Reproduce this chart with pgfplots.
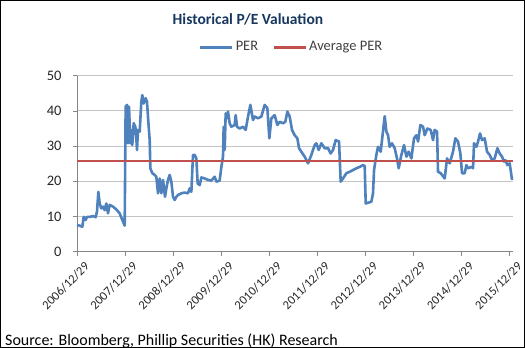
\documentclass[border=0pt]{standalone}
\usepackage{pgfplots}
\pgfplotsset{compat=1.18}
\usepackage{pgfplotstable}
\usepackage{fontspec}
\setmainfont{Carlito}
\definecolor{perblue}{HTML}{4F81BD}
\definecolor{avgred}{HTML}{C0504D}
\definecolor{titleblue}{HTML}{17375E}
\definecolor{axisgray}{HTML}{868686}
\definecolor{gridgray}{HTML}{C4C4C4}
\pgfplotstableread{
x y
2007.000 7.6
2007.055 7.4
2007.111 7.1
2007.139 9.9
2007.180 9.0
2007.208 9.9
2007.264 9.9
2007.333 10.1
2007.388 9.8
2007.416 11.4
2007.444 17.0
2007.472 13.7
2007.506 12.3
2007.541 12.8
2007.576 11.8
2007.610 13.7
2007.645 10.9
2007.680 13.3
2007.749 12.8
2007.818 12.0
2007.888 10.9
2007.943 9.0
2007.992 7.4
2008.012 41.2
2008.040 41.7
2008.061 30.8
2008.082 41.2
2008.110 30.8
2008.130 34.6
2008.151 30.3
2008.179 36.5
2008.214 35.5
2008.234 32.2
2008.248 28.9
2008.269 34.6
2008.304 34.1
2008.338 42.6
2008.359 44.5
2008.387 42.1
2008.429 43.6
2008.456 42.6
2008.484 36.9
2008.512 31.7
2008.526 23.7
2008.567 22.3
2008.616 21.8
2008.650 21.3
2008.685 16.6
2008.720 20.8
2008.755 16.6
2008.789 20.4
2008.831 15.6
2008.859 18.0
2008.893 20.4
2008.928 21.8
2008.963 19.9
2008.997 15.6
2009.032 14.7
2009.067 15.6
2009.101 16.1
2009.171 16.6
2009.240 16.8
2009.309 16.6
2009.344 18.0
2009.379 17.0
2009.413 27.5
2009.448 27.5
2009.483 26.5
2009.510 19.4
2009.552 18.9
2009.587 21.1
2009.656 20.8
2009.725 20.4
2009.795 20.2
2009.864 21.3
2009.899 19.9
2009.968 20.2
2010.003 24.1
2010.037 27.0
2010.051 35.5
2010.072 28.9
2010.093 39.3
2010.121 37.9
2010.141 39.8
2010.176 36.5
2010.211 35.5
2010.280 36.0
2010.301 38.8
2010.329 35.5
2010.384 35.0
2010.454 35.5
2010.509 34.6
2010.558 38.4
2010.606 41.7
2010.662 37.4
2010.696 38.4
2010.766 37.9
2010.835 38.4
2010.904 41.7
2010.960 40.8
2011.001 32.2
2011.043 37.9
2011.112 38.8
2011.168 36.0
2011.216 36.9
2011.286 36.5
2011.334 36.9
2011.376 39.8
2011.424 38.4
2011.473 34.6
2011.528 33.1
2011.584 32.2
2011.619 29.4
2011.667 28.4
2011.736 27.0
2011.806 25.1
2011.875 27.5
2011.945 30.3
2011.979 30.8
2012.028 28.9
2012.083 30.8
2012.153 29.4
2012.222 29.4
2012.277 27.9
2012.326 28.9
2012.381 31.7
2012.451 31.3
2012.485 19.9
2012.534 20.8
2012.603 22.3
2012.673 22.7
2012.742 23.2
2012.811 23.7
2012.881 24.1
2012.950 24.6
2012.985 24.3
2013.006 13.7
2013.054 13.9
2013.123 14.2
2013.158 16.6
2013.179 23.2
2013.227 27.5
2013.262 29.8
2013.318 28.4
2013.345 31.7
2013.401 38.5
2013.436 34.1
2013.470 33.1
2013.505 29.8
2013.553 30.8
2013.609 29.4
2013.657 26.5
2013.692 23.7
2013.748 27.5
2013.803 30.3
2013.852 27.0
2013.900 28.4
2013.956 26.5
2014.011 32.2
2014.060 33.1
2014.095 31.3
2014.143 36.0
2014.199 35.5
2014.233 33.1
2014.289 35.0
2014.358 34.6
2014.406 31.7
2014.441 34.6
2014.490 34.1
2014.510 22.7
2014.566 22.3
2014.649 20.8
2014.698 26.5
2014.753 25.1
2014.822 28.4
2014.871 32.2
2014.926 31.3
2014.975 27.9
2015.010 22.3
2015.065 22.3
2015.100 24.6
2015.135 23.7
2015.204 24.1
2015.239 23.7
2015.259 30.8
2015.308 29.8
2015.343 31.3
2015.384 33.6
2015.426 31.7
2015.481 32.2
2015.530 28.4
2015.585 27.5
2015.634 26.0
2015.689 26.5
2015.745 29.4
2015.793 27.9
2015.842 27.0
2015.883 25.6
2015.911 26.0
2015.953 24.6
2016.001 25.1
2016.050 20.4
}\pertable
\begin{document}
\begin{tikzpicture}
\useasboundingbox (0,0) rectangle (525pt,348pt);
\begin{axis}[
  at={(77pt,96.3pt)}, anchor=south west,
  scale only axis, width=436pt, height=176pt,
  xmin=2007, xmax=2016.07, ymin=0, ymax=50,
  axis lines*=left,
  axis line style={axisgray, line width=0.8pt},
  xtick={2007,2008,...,2016},
  xticklabels={2006/12/29,2007/12/29,2008/12/29,2009/12/29,2010/12/29,2011/12/29,2012/12/29,2013/12/29,2014/12/29,2015/12/29},
  ytick={0,10,...,50},
  ymajorgrids, grid style={gridgray, line width=0.9pt},
  tick align=outside, major tick length=4pt,
  tick style={axisgray, line width=0.8pt},
  /pgf/number format/assume math mode=true,
  xticklabel style={font=\fontsize{12.5}{14}\selectfont, rotate=45, anchor=north east, inner sep=0.5pt, xshift=1.5pt, yshift=-8pt, text=black!85},
  yticklabel style={font=\fontsize{14.5}{16}\selectfont, xshift=-8pt, text=black!85},
  legend columns=2,
  legend style={draw=none, fill=none, at={(0.492,1.163)}, anchor=center,
    font=\fontsize{14.5}{16}\selectfont, text=black!75,
    /tikz/every even column/.append style={column sep=12pt}},
  legend image code/.code={\draw[#1, line width=3pt] (0pt,0pt) -- (32pt,0pt);},
  clip=false,
]
\addplot[perblue, line width=2.6pt, line join=round] table[x=x,y=y] {\pertable};
\addlegendentry{PER}
\addplot[avgred, line width=2.6pt] coordinates {(2007,25.8) (2016.07,25.8)};
\addlegendentry{Average PER}
\node[font=\fontsize{15.5}{17}\selectfont\bfseries, text=titleblue] at (rel axis cs:0.392,1.322) {Historical P/E Valuation};
\end{axis}
\node[anchor=base west, font=\fontsize{16}{18}\selectfont, inner sep=0pt] at (5pt,2.5pt) {Source: Bloomberg, Phillip Securities (HK) Research};
\draw[black, line width=0.9pt] (0.6pt,0.6pt) rectangle (524.4pt,347.4pt);
\end{tikzpicture}
\end{document}
